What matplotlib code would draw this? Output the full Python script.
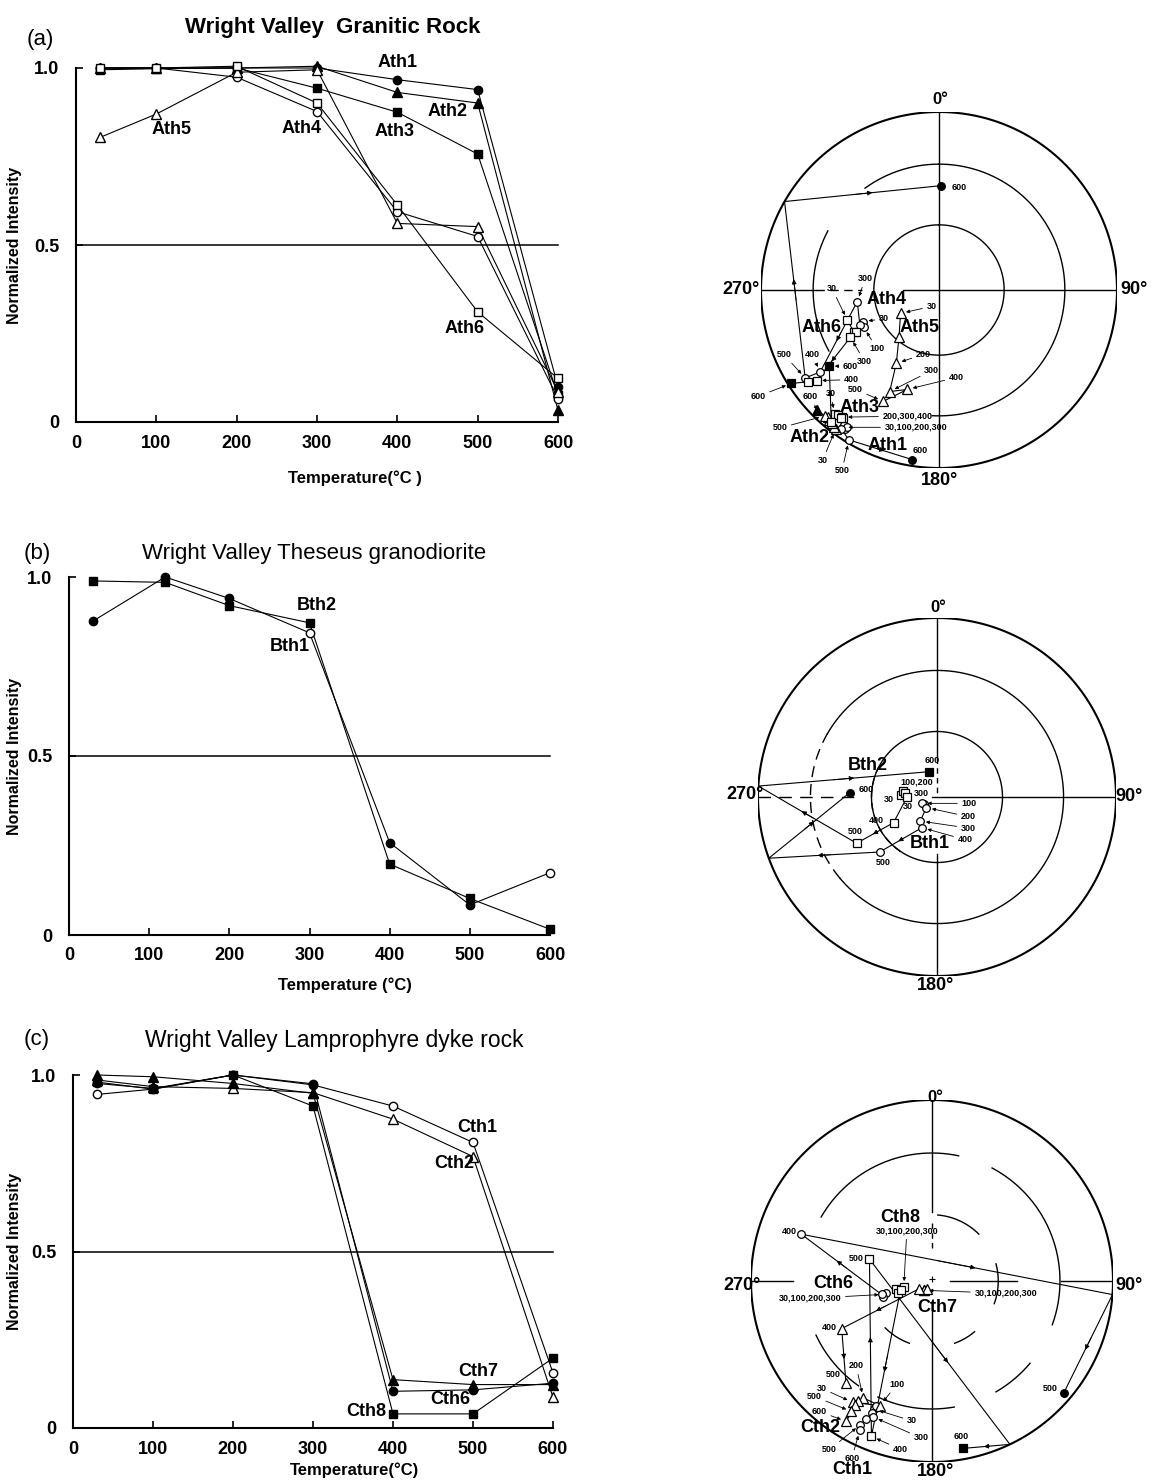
import numpy as np
import matplotlib.pyplot as plt

W, H = 1155, 1483
plt.rcParams['font.family'] = ['Liberation Sans', 'DejaVu Sans']
plt.rcParams['font.weight'] = 'bold'

# ---- normalized intensity vs. demagnetization temperature ----
temps_a = [30, 100, 200, 300, 400, 500, 600]
ath1_int = [1.0, 1.0, 1.0, 1.0, 0.967, 0.939, 0.10]
ath2_int = [1.0, 1.0, 1.0, 1.005, 0.931, 0.901, 0.033]
ath3_int = [0.995, 0.998, 1.0, 0.943, 0.875, 0.757, 0.075]
ath4_int = [1.0, 1.0, 0.974, 0.877, 0.594, 0.524, 0.066]
ath5_int = [0.804, 0.870, 0.988, 0.995, 0.561, 0.552, 0.085]
ath6_int = [1.0, 1.0, 1.005, 0.901, 0.613, 0.311, 0.123]

temps_b = [30, 120, 200, 300, 400, 500, 600]
bth1_int = [0.877, 1.0, 0.940, 0.844, 0.258, 0.084, 0.174]
bth1_solid = [True, True, True, False, True, True, False]
bth2_int = [0.989, 0.985, 0.920, 0.872, 0.198, 0.102, 0.016]

temps_c = [30, 100, 200, 300, 400, 500, 600]
cth1_int = [0.945, 0.960, 1.0, 0.972, 0.912, 0.809, 0.156]
cth2_int = [0.986, 0.967, 0.962, 0.950, 0.875, 0.769, 0.087]
cth6_int = [0.976, 0.962, 1.0, 0.975, 0.104, 0.108, 0.127]
cth7_int = [1.0, 0.995, 0.976, 0.948, 0.137, 0.123, 0.123]
cth8_int = [0.980, 0.960, 1.0, 0.912, 0.040, 0.040, 0.198]

# ---- remanence directions: declination / inclination (deg), negative inc = upper hemisphere ----
steps7 = [30, 100, 200, 300, 400, 500, 600]
steps6 = [30, 100, 200, 300, 400, 500]

ath1_dec = [215, 214, 215, 214, 215, 211, 189]
ath1_inc = [-6.5, -6.6, -8.0, -8.0, -5.0, -2.0, 4.0]
ath2_dec = [216.6, 217.6, 218.9, 220.1, 221.1, 222.2, 225.5]
ath2_inc = [-3.0, -3.5, -4.5, -5.0, -6.0, -5.0, 4.5]
ath3_dec = [220.2, 218.9, 217.2, 216.8, 217.5, 219.3, 235.4]
ath3_inc = [-10.0, -10.8, -11.3, -11.0, -10.6, -5.0, 26.0]
ath4_dec = [247.4, 243.6, 246.2, 261.9, 235.4, 236.7, 1.3]
ath4_inc = [-51.8, -51.0, -49.8, -51.7, -20.0, -11.0, 41.0]
ath4_rim = (6, 299.8)
ath5_dec = [238.7, 220.2, 210.2, 205.9, 197.7, 206.6]
ath5_inc = [-69.4, -61.5, -50.6, -36.7, -41.0, -30.7]
ath6_dec = [251.9, 244.0, 243.1, 241.9, 233.5, 235.0, 237.7]
ath6_inc = [-44.9, -45.7, -46.5, -43.0, -15.5, -11.0, 2.0]

bth1_dec = [241.2, 247.1, 225.0, 214.8, 206.1, 226.2, 272.8]
bth1_inc = [-83.1, -82.6, -83.2, -76.7, -74.5, -53.4, 49.6]
bth1_rim = (6, 250.0)
bth2_dec = [273.2, 280.0, 277.8, 270.0, 239.4, 240.1, 343.0]
bth2_inc = [-73.8, -74.3, -75.5, -76.4, -67.0, -47.0, 78.0]
bth2_rim = (6, 273.5)

cth1_dec = [204.4, 203.9, 204.3, 203.4, 205.4, 206.5, 205.8]
cth1_inc = [-23.4, -25.2, -21.2, -19.3, -16.6, -12.3, -9.2]
cth2_dec = [213.2, 202.7, 210.5, 211.5, 212.0, 211.7, 211.4]
cth2_inc = [-21.0, -26.3, -26.0, -23.1, -20.6, -16.4, -10.0]
cth6_dec = [254.4, 256.0, 252.0, 255.0, 289.7, 130.4]
cth6_inc = [-67.6, -68.5, -67.0, -66.5, -24.3, 5.0]
cth6_rim = (5, 94.3)
cth7_dec = [221.8, 220.4, 212.6, 238.8, 242.2, 220.2]
cth7_inc = [-84.4, -84.7, -85.5, -83.4, -43.0, -27.2]
cth8_dec = [258.0, 249.9, 258.6, 254.0, 201.3, 289.3, 169.4]
cth8_inc = [-73.4, -73.8, -77.1, -75.3, -8.7, -60.0, 6.6]
cth8_rim = (6, 154.5)

fig = plt.figure(figsize=(W / 100, H / 100), dpi=100)


def ftext(x, y, s, **kw):
    kw.setdefault('ha', 'center')
    kw.setdefault('va', 'center')
    fig.text(x / W, 1 - y / H, s, **kw)


# ---------------- intensity curves ----------------
def curve_panel(px0, px1, py0, py1, temps, series, names, xlabel, xlab_pos, ylab_x):
    ax = fig.add_axes([px0 / W, 1 - py0 / H, (px1 - px0) / W, (py0 - py1) / H])
    ax.set_xlim(0, 600)
    ax.set_ylim(0, 1.0)
    for s in ('top', 'right'):
        ax.spines[s].set_visible(False)
    for s in ('left', 'bottom'):
        ax.spines[s].set_linewidth(1.5)
    ax.set_xticks(range(0, 601, 100))
    ax.set_xticklabels([str(t) for t in range(0, 601, 100)])
    ax.set_yticks([0, 0.5, 1.0])
    ax.set_yticklabels(['0', '0.5', '1.0'])
    ax.tick_params(direction='in', length=5, width=1.2, labelsize=13)
    ax.tick_params(axis='y', pad=12)
    ax.tick_params(axis='x', pad=9)
    ax.plot([0, 600], [0.5, 0.5], color='k', lw=1.1, clip_on=False)
    for vals, mk, solid in series:
        ax.plot(temps, vals, '-', color='k', lw=0.8, clip_on=False, zorder=2)
        if isinstance(solid, bool):
            solid = [solid] * len(vals)
        for t, v, f in zip(temps, vals, solid):
            ax.plot(t, v, mk, mfc='k' if f else 'w', mec='k', mew=1.0,
                    ms=6.5 if mk == '^' else 6, clip_on=False, zorder=3)
    for text, t, v in names:
        ax.text(t, v, text, ha='center', va='center', fontsize=13)
    ax.set_ylabel('Normalized Intensity', fontsize=11.5, fontweight='bold')
    ax.yaxis.set_label_coords(ylab_x, 0.5)
    ax.text(xlab_pos[0], xlab_pos[1], xlabel, transform=ax.transAxes,
            ha='center', va='center', fontsize=12)
    return ax


curve_panel(76, 558, 422, 68, temps_a,
            [(ath1_int, 'o', True), (ath2_int, '^', True), (ath3_int, 's', True),
             (ath4_int, 'o', False), (ath5_int, '^', False), (ath6_int, 's', False)],
            [('Ath1', 400, 1.015), ('Ath2', 463, 0.877), ('Ath3', 397, 0.821),
             ('Ath4', 281, 0.830), ('Ath5', 119, 0.825), ('Ath6', 484, 0.264)],
            'Temperature(\u00b0C )', (0.579, -0.158), -0.112)

curve_panel(69, 550, 935, 577, temps_b,
            [(bth1_int, 'o', bth1_solid), (bth2_int, 's', True)],
            [('Bth2', 309, 0.921), ('Bth1', 275, 0.807)],
            'Temperature (\u00b0C)', (0.574, -0.14), -0.098)

curve_panel(73, 553, 1428, 1075, temps_c,
            [(cth1_int, 'o', False), (cth2_int, '^', False), (cth6_int, 'o', True),
             (cth7_int, '^', True), (cth8_int, 's', True)],
            [('Cth1', 505, 0.852), ('Cth2', 477, 0.75), ('Cth7', 506, 0.16),
             ('Cth6', 471, 0.08), ('Cth8', 367, 0.047)],
            'Temperature(\u00b0C)', (0.5875, -0.119), -0.106)

ftext(40, 40, '(a)', fontsize=16, fontweight='normal')
ftext(333, 28, 'Wright Valley  Granitic Rock', fontsize=16)
ftext(37, 553, '(b)', fontsize=16, fontweight='normal')
ftext(314, 553, 'Wright Valley Theseus granodiorite', fontsize=16, fontweight='normal')
ftext(37, 1040, '(c)', fontsize=16, fontweight='normal')
ftext(334, 1040, 'Wright Valley Lamprophyre dyke rock', fontsize=16.5, fontweight='normal')


# ---------------- equal-area nets ----------------
def proj(dec, inc):
    d = np.radians(np.asarray(dec, float))
    i = np.radians(np.abs(np.asarray(inc, float)))
    r = np.sqrt(2) * np.sin((np.pi / 2 - i) / 2)
    return r * np.sin(d), r * np.cos(d)


def arc(ax, inc, d0, d1, **kw):
    d = np.linspace(d0, d1, 240)
    x, y = proj(d, np.full_like(d, inc))
    kw.setdefault('lw', 1.0)
    ax.plot(x, y, color='k', **kw)


def seg(ax, x0, y0, x1, y1, **kw):
    kw.setdefault('lw', 1.0)
    ax.plot([x0, x1], [y0, y1], color='k', **kw)


def stereonet(cx, cy, R):
    ax = fig.add_axes([(cx - R) / W, 1 - (cy + R) / H, 2 * R / W, 2 * R / H])
    ax.set_xlim(-1, 1)
    ax.set_ylim(-1, 1)
    ax.set_aspect('equal')
    ax.axis('off')
    arc(ax, 0, 0, 360, lw=1.5)
    return ax


def demag_path(ax, dec, inc, mk, rim=None):
    x, y = proj(dec, inc)
    px, py = list(x), list(y)
    if rim is not None:
        rx, ry = proj(rim[1], 0)
        px.insert(rim[0], float(rx))
        py.insert(rim[0], float(ry))
    ax.plot(px, py, '-', color='k', lw=0.8, zorder=2, clip_on=False)
    for k in range(len(px) - 1):
        dx, dy = px[k + 1] - px[k], py[k + 1] - py[k]
        if np.hypot(dx, dy) > 0.2:
            ax.annotate('', xy=(px[k] + 0.56 * dx, py[k] + 0.56 * dy),
                        xytext=(px[k] + 0.44 * dx, py[k] + 0.44 * dy),
                        arrowprops=dict(arrowstyle='-|>', color='k', lw=0.6,
                                        mutation_scale=7, shrinkA=0, shrinkB=0))
    ms = {'o': 5.5, 's': 6, '^': 7}[mk]
    for xi, yi, ii in zip(x, y, inc):
        ax.plot(xi, yi, mk, mfc='k' if ii > 0 else 'w', mec='k', mew=0.9,
                ms=ms, zorder=3, clip_on=False)


def step_label(ax, dec, inc, steps, step, text, dx, dy, arrow=True):
    k = steps.index(step)
    x, y = proj(dec[k], inc[k])
    props = None
    if arrow:
        props = dict(arrowstyle='-|>', color='k', lw=0.6, mutation_scale=5,
                     shrinkA=1, shrinkB=4)
    ax.annotate(text, xy=(x, y), xytext=(dx, dy), textcoords='offset pixels',
                ha='center', va='center', fontsize=6.5, arrowprops=props,
                annotation_clip=False)


# (a) granitic rock
ax = stereonet(939, 290, 178)
arc(ax, 60, 0, 360)
arc(ax, 30, 0, 183)
arc(ax, 30, 241, 298)
arc(ax, 30, 324, 360)
seg(ax, 0, 1, 0, -1)
seg(ax, -1, 0, -0.69, 0)
seg(ax, -0.69, 0, -0.43, 0, ls=(0, (6, 4)))
seg(ax, -0.2, 0, 1, 0)
demag_path(ax, ath1_dec, ath1_inc, 'o')
demag_path(ax, ath2_dec, ath2_inc, '^')
demag_path(ax, ath3_dec, ath3_inc, 's')
demag_path(ax, ath4_dec, ath4_inc, 'o', ath4_rim)
demag_path(ax, ath5_dec, ath5_inc, '^')
demag_path(ax, ath6_dec, ath6_inc, 's')
for d, i, st, s, txt, ox, oy, a in [
        (ath4_dec, ath4_inc, steps7, 600, '600', 18, -2, False),
        (ath4_dec, ath4_inc, steps7, 300, '300', 8, 23, True),
        (ath6_dec, ath6_inc, steps7, 30, '30', -15, 31, True),
        (ath4_dec, ath4_inc, steps7, 30, '30', 21, 3, True),
        (ath4_dec, ath4_inc, steps7, 100, '100', 13, -21, True),
        (ath6_dec, ath6_inc, steps7, 300, '300', 14, -24, True),
        (ath4_dec, ath4_inc, steps7, 400, '400', -8, 17, True),
        (ath4_dec, ath4_inc, steps7, 500, '500', -21, 23, True),
        (ath3_dec, ath3_inc, steps7, 600, '600', 21, -1, True),
        (ath6_dec, ath6_inc, steps7, 400, '400', 35, 1, True),
        (ath6_dec, ath6_inc, steps7, 600, '600', -33, -13, True),
        (ath5_dec, ath5_inc, steps6, 30, '30', 31, 7, True),
        (ath5_dec, ath5_inc, steps6, 200, '200', 27, 9, True),
        (ath5_dec, ath5_inc, steps6, 300, '300', 42, 21, True),
        (ath5_dec, ath5_inc, steps6, 400, '400', 49, 12, True),
        (ath5_dec, ath5_inc, steps6, 500, '500', -28, 12, True),
        (ath2_dec, ath2_inc, steps7, 600, '600', -7, 13, True),
        (ath3_dec, ath3_inc, steps7, 30, '30', -4, 20, True),
        (ath3_dec, ath3_inc, steps7, 200, '200,300,400', 65, 1, True),
        (ath1_dec, ath1_inc, steps7, 30, '30,100,200,300', 73, 0, True),
        (ath2_dec, ath2_inc, steps7, 500, '500', -45, -12, True),
        (ath2_dec, ath2_inc, steps7, 30, '30', -13, -31, True),
        (ath1_dec, ath1_inc, steps7, 500, '500', -7, -31, True),
        (ath1_dec, ath1_inc, steps7, 600, '600', 8, 9, False)]:
    step_label(ax, d, i, st, s, txt, ox, oy, a)
for name, x, y in [('Ath4', 887, 300), ('Ath5', 920, 327), ('Ath6', 822, 327),
                   ('Ath3', 860, 407), ('Ath2', 810, 438), ('Ath1', 888, 445)]:
    ftext(x, y, name, fontsize=13)
ftext(940, 100, '0\u00b0', fontsize=12)
ftext(741, 290, '270\u00b0', fontsize=13)
ftext(1134, 290, '90\u00b0', fontsize=13)
ftext(940, 480, '180\u00b0', fontsize=13)

# (b) Theseus granodiorite
ax = stereonet(937, 797, 179)
arc(ax, 60, -145, 215)
arc(ax, 60, 215, 300, ls=(0, (5, 4)))
arc(ax, 30, -60, 230)
arc(ax, 30, 230, 300, ls=(0, (8, 5)))
seg(ax, 0, 1, 0, 0.22)
seg(ax, 0, 0.22, 0, 0.0, ls=(0, (4, 3)))
seg(ax, 0, -0.32, 0, -1)
seg(ax, -0.03, 0, 1, 0)
seg(ax, -1, 0, -0.45, 0, ls=(0, (9, 6)))
demag_path(ax, bth1_dec, bth1_inc, 'o', bth1_rim)
demag_path(ax, bth2_dec, bth2_inc, 's', bth2_rim)
for d, i, s, txt, ox, oy, a in [
        (bth2_dec, bth2_inc, 600, '600', 3, 11, False),
        (bth2_dec, bth2_inc, 100, '100,200', 14, 9, False),
        (bth2_dec, bth2_inc, 300, '300', 14, 3, False),
        (bth2_dec, bth2_inc, 30, '30', -13, -4, False),
        (bth1_dec, bth1_inc, 600, '600', 16, 3, False),
        (bth1_dec, bth1_inc, 30, '30', -16, -2, False),
        (bth2_dec, bth2_inc, 400, '400', -17, 2, False),
        (bth2_dec, bth2_inc, 500, '500', -1, 12, False),
        (bth1_dec, bth1_inc, 100, '100', 47, 0, True),
        (bth1_dec, bth1_inc, 200, '200', 42, -9, True),
        (bth1_dec, bth1_inc, 300, '300', 48, -7, True),
        (bth1_dec, bth1_inc, 400, '400', 43, -12, True),
        (bth1_dec, bth1_inc, 500, '500', 4, -10, False)]:
    step_label(ax, d, i, steps7, s, txt, ox, oy, a)
ftext(868, 765, 'Bth2', fontsize=13)
ftext(930, 843, 'Bth1', fontsize=13)
ftext(938, 607, '0\u00b0', fontsize=12)
ftext(745, 795, '270\u00b0', fontsize=13)
ftext(1129, 797, '90\u00b0', fontsize=13)
ftext(935, 985, '180\u00b0', fontsize=13)

# (c) lamprophyre dyke rock
ax = stereonet(932, 1281, 181)
for d0, d1 in [(300, 372), (388, 470), (130, 150), (170, 205), (215, 245)]:
    arc(ax, 30, d0, d1)
for d0, d1 in [(5, 45), (75, 110), (140, 160), (200, 225)]:
    arc(ax, 60, d0, d1)
seg(ax, 0, 1, 0, 0.38)
seg(ax, 0, 0.32, 0, 0.16, ls=(0, (4, 3)))
seg(ax, 0, -0.16, 0, -1)
seg(ax, -1, 0, -0.77, 0)
seg(ax, 0.1, 0, 0.47, 0)
seg(ax, 0.71, 0, 1, 0)
ax.plot(0, 0.01, '+', color='k', ms=5, mew=0.8)
demag_path(ax, cth1_dec, cth1_inc, 'o')
demag_path(ax, cth2_dec, cth2_inc, '^')
demag_path(ax, cth6_dec, cth6_inc, 'o', cth6_rim)
demag_path(ax, cth7_dec, cth7_inc, '^')
demag_path(ax, cth8_dec, cth8_inc, 's', cth8_rim)
for d, i, st, s, txt, ox, oy, a in [
        (cth6_dec, cth6_inc, steps6, 400, '400', -12, 3, False),
        (cth8_dec, cth8_inc, steps7, 200, '30,100,200,300', 3, 56, True),
        (cth8_dec, cth8_inc, steps7, 500, '500', -13, 1, False),
        (cth6_dec, cth6_inc, steps6, 30, '30,100,200,300', -74, -4, True),
        (cth7_dec, cth7_inc, steps6, 30, '30,100,200,300', 82, -3, True),
        (cth7_dec, cth7_inc, steps6, 400, '400', -12, 1, False),
        (cth6_dec, cth6_inc, steps6, 500, '500', -13, 5, False),
        (cth7_dec, cth7_inc, steps6, 500, '500', -13, 8, False),
        (cth2_dec, cth2_inc, steps7, 200, '200', -7, 32, True),
        (cth2_dec, cth2_inc, steps7, 30, '30', -31, 14, True),
        (cth2_dec, cth2_inc, steps7, 500, '500', -37, 15, True),
        (cth2_dec, cth2_inc, steps7, 600, '600', -27, 10, True),
        (cth2_dec, cth2_inc, steps7, 100, '100', 17, 21, True),
        (cth1_dec, cth1_inc, steps7, 30, '30', 38, -12, True),
        (cth1_dec, cth1_inc, steps7, 300, '300', 48, -21, True),
        (cth8_dec, cth8_inc, steps7, 400, '400', 29, -13, True),
        (cth1_dec, cth1_inc, steps7, 500, '500', -31, -25, True),
        (cth1_dec, cth1_inc, steps7, 600, '600', -8, -28, True),
        (cth8_dec, cth8_inc, steps7, 600, '600', -2, 12, False)]:
    step_label(ax, d, i, st, s, txt, ox, oy, a)
for name, x, y in [('Cth8', 900, 1217), ('Cth6', 833, 1283), ('Cth7', 937, 1308),
                   ('Cth2', 820, 1428), ('Cth1', 852, 1470)]:
    ftext(x, y, name, fontsize=13)
ftext(935, 1097, '0\u00b0', fontsize=12)
ftext(742, 1285, '270\u00b0', fontsize=13)
ftext(1129, 1285, '90\u00b0', fontsize=13)
ftext(935, 1472, '180\u00b0', fontsize=13)

fig.savefig('out.png', dpi=100)
